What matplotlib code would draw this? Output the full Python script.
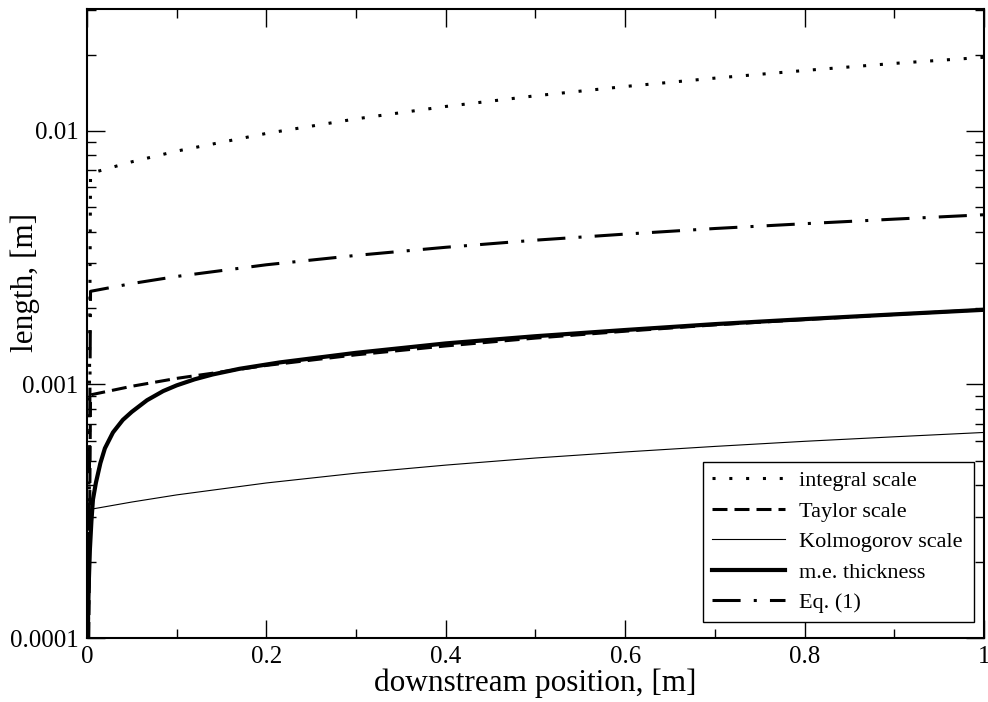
import matplotlib
matplotlib.use('Agg')
import matplotlib.pyplot as plt
from matplotlib.ticker import FixedLocator, LogLocator, FormatStrFormatter, NullFormatter, MultipleLocator

plt.rcParams['font.family'] = ['Liberation Serif', 'DejaVu Serif']

# downstream position, [m]
x_main = [0.0, 0.004, 0.05, 0.1, 0.2, 0.3, 0.4, 0.5, 0.6, 0.7, 0.8, 0.9, 1.0]

# length scales, [m]
integral_scale = [1e-5, 0.00680, 0.00755, 0.00832, 0.00977, 0.01115, 0.01248,
                  0.01375, 0.01496, 0.01614, 0.01730, 0.01845, 0.01950]
taylor_scale = [1e-5, 0.000910, 0.000984, 0.001057, 0.001189, 0.001309, 0.001419,
                0.001524, 0.001622, 0.001718, 0.001803, 0.001888, 0.001972]
kolmogorov_scale = [1e-5, 0.000322, 0.000344, 0.000367, 0.000409, 0.000447, 0.000481,
                    0.000513, 0.000542, 0.000570, 0.000597, 0.000622, 0.000647]
eq1 = [1e-5, 0.002330, 0.002500, 0.002667, 0.002965, 0.003228, 0.003475,
       0.003707, 0.003917, 0.004121, 0.004305, 0.004487, 0.004670]

x_me = [0.0, 0.0005, 0.0015, 0.0033, 0.005, 0.0067, 0.01, 0.015, 0.02, 0.029,
        0.04, 0.05, 0.067, 0.085, 0.1, 0.12, 0.14, 0.17, 0.215,
        0.3, 0.4, 0.5, 0.6, 0.7, 0.8, 0.9, 1.0]
me_thickness = [1e-5, 0.000087, 0.000145, 0.000224, 0.000290, 0.000352, 0.000410,
                0.000490, 0.000560, 0.000647, 0.000725, 0.000780, 0.000867,
                0.000942, 0.000992, 0.001048, 0.001095, 0.001153, 0.001222,
                0.001333, 0.001452, 0.001550, 0.001640, 0.001730, 0.001810,
                0.001890, 0.001970]

fig = plt.figure(figsize=(9.88, 7.02), dpi=100)
ax = fig.add_axes([0.088, 0.091, 0.908, 0.8955])

lw = 2.2
ax.plot(x_main, integral_scale, color='black', lw=lw, dashes=(1, 4.5),
        dash_capstyle='butt', label='integral scale')
ax.plot(x_main, taylor_scale, color='black', lw=lw, dashes=(4.9, 2.3),
        label='Taylor scale')
ax.plot(x_main, kolmogorov_scale, color='black', lw=0.8, label='Kolmogorov scale')
ax.plot(x_me, me_thickness, color='black', lw=3.0, label='m.e. thickness')
ax.plot(x_main, eq1, color='black', lw=lw, dashes=(9.2, 4.3, 1, 4.3),
        label='Eq. (1)')

ax.set_yscale('log')
ax.set_xlim(0, 1)
ax.set_ylim(1e-4, 0.0301)

ax.xaxis.set_major_locator(MultipleLocator(0.2))
ax.xaxis.set_minor_locator(MultipleLocator(0.1))
ax.xaxis.set_major_formatter(FormatStrFormatter('%g'))
ax.yaxis.set_major_locator(FixedLocator([1e-4, 1e-3, 1e-2]))
ax.yaxis.set_minor_locator(LogLocator(base=10, subs=range(2, 10)))
ax.yaxis.set_major_formatter(FormatStrFormatter('%g'))
ax.yaxis.set_minor_formatter(NullFormatter())

ax.tick_params(which='both', direction='in', top=True, right=True, width=1.0,
               labelsize=18, pad=6)
ax.tick_params(which='major', length=12.7)
ax.tick_params(which='minor', length=6.5)
for s in ax.spines.values():
    s.set_linewidth(1.5)

ax.set_xlabel('downstream position, [m]', fontsize=22.5, labelpad=0)
ax.set_ylabel('length, [m]', fontsize=22.5)
ax.yaxis.set_label_coords(-0.052, 0.565)

leg = ax.legend(loc='lower left', bbox_to_anchor=(0.687, 0.0255, 0.302, 0.26),
                mode='expand', borderaxespad=0, fontsize=16, fancybox=False,
                framealpha=1, edgecolor='black', handlelength=3.3,
                labelspacing=0.45, borderpad=0.4, handletextpad=0.6)
leg.get_frame().set_linewidth(1.0)

fig.savefig('out.png', dpi=100)
